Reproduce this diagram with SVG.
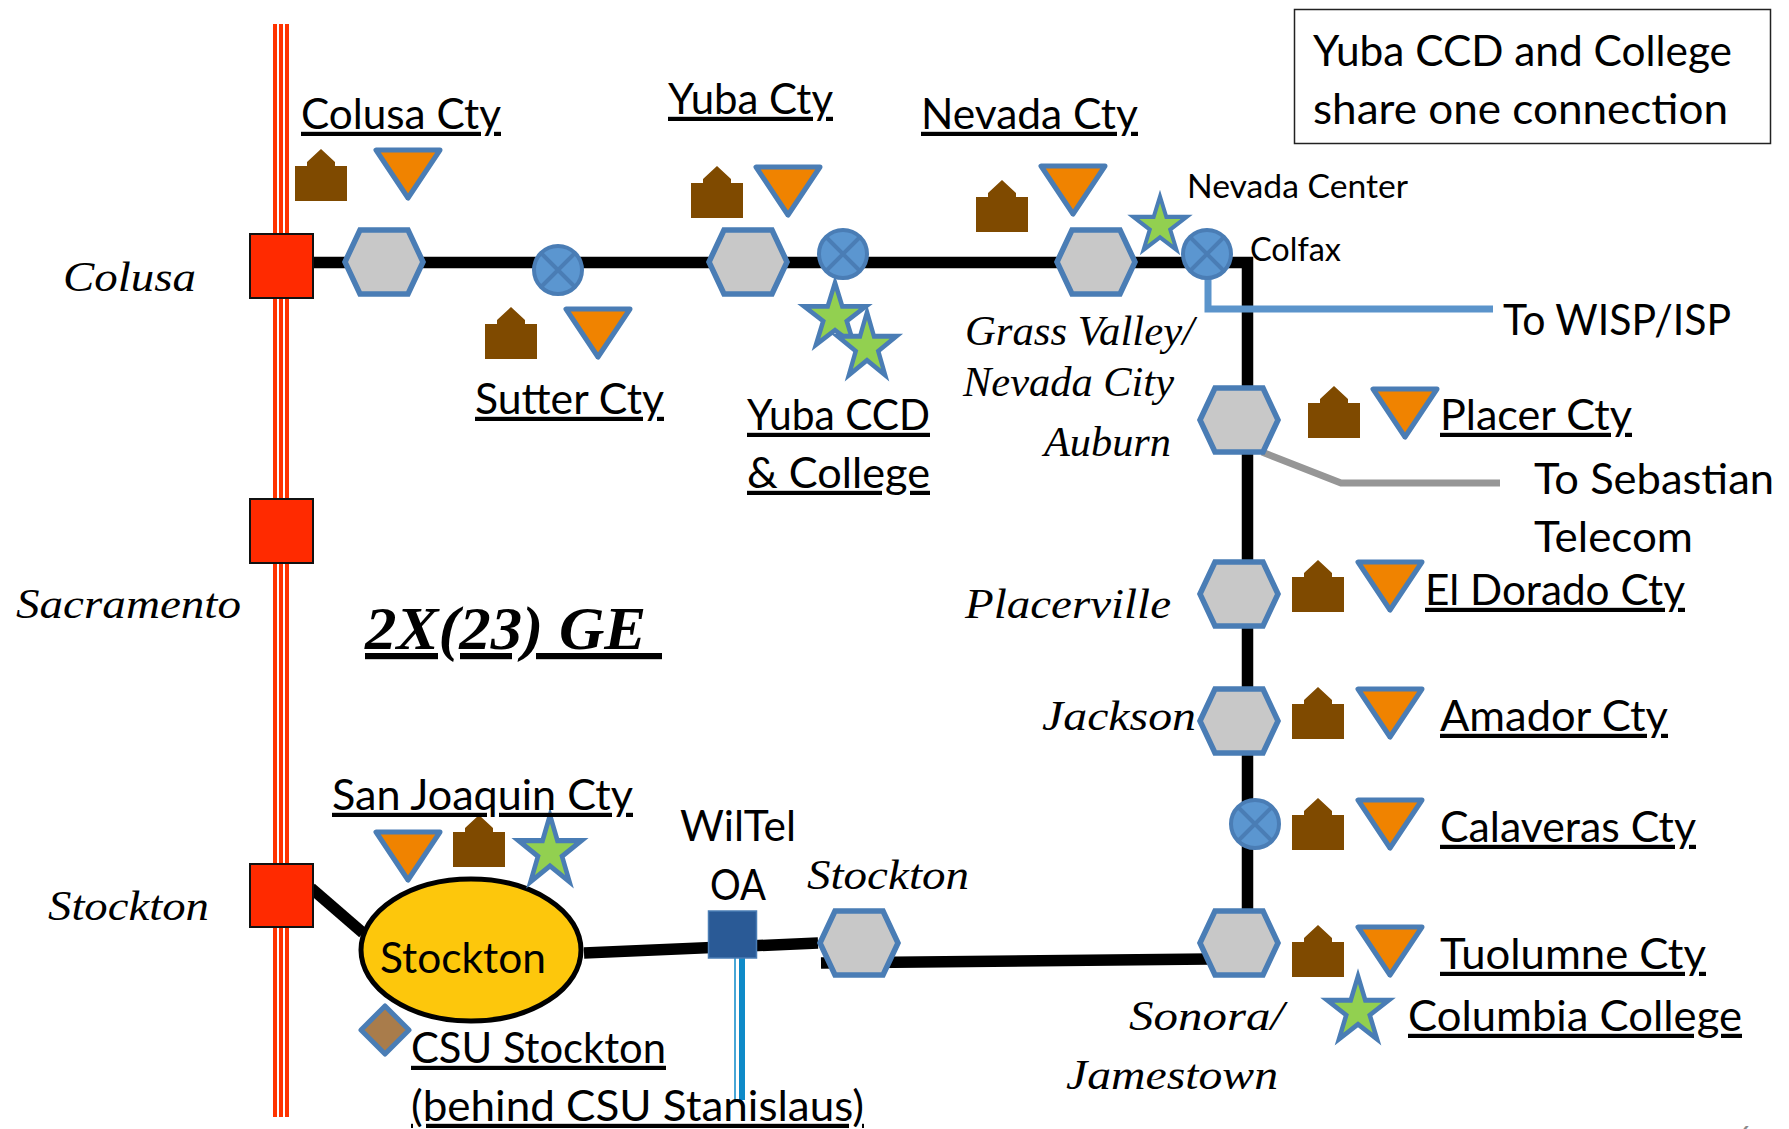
<svg xmlns="http://www.w3.org/2000/svg" width="1789" height="1129" viewBox="0 0 1789 1129">
<style>
.s{font-family:Lato,"Liberation Sans",sans-serif;font-size:42px;fill:#000;transform:translateY(.8px)}
.u{text-decoration:underline;text-decoration-thickness:2.5px;text-underline-offset:7px;text-decoration-skip-ink:none}
.m{font-size:32px}
.i{font-family:"Liberation Serif",serif;font-style:italic;font-size:42px;fill:#000}
.hex{fill:#c8c8c8;stroke:#4a7db5;stroke-width:5.500;stroke-linejoin:miter}
.tri{fill:#f08300;stroke:#4a7db5;stroke-width:5;stroke-linejoin:round}
.house{fill:#7f4a00}
.star{fill:#92d050;stroke:#4a7db5;stroke-width:5}
.cx{fill:#5b96d0;stroke:#4a7db5;stroke-width:4}
.cl{stroke:#4a7db5;stroke-width:4;fill:none}
.hub{fill:#ff2a00;stroke:#111;stroke-width:2}
.rail{stroke:#ff3300;stroke-width:4;fill:none}
.bk{stroke:#000;stroke-width:11.500;fill:none}
</style>
<defs>
<polygon id="h" class="hex" points="-39,0 -24,-32 24,-32 39,0 24,32 -24,32"/>
<polygon id="t" class="tri" points="-32,-23 32,-23 0,25"/>
<path id="b" class="house" d="M-26,52V17H-14V13L0,0L14,13V17H26V52Z"/>
<polygon id="st" class="star" points="0,-36 8.080,-11.120 34.240,-11.120 13.080,4.250 21.160,29.120 0,13.750 -21.160,29.120 -13.080,4.250 -34.240,-11.120 -8.080,-11.120"/>
<g id="x"><circle class="cx" r="24"/><path class="cl" d="M-16,-16L16,16M16,-16L-16,16"/></g>
</defs>

<g id="connectors">
<path class="rail" d="M275,24V1117M281,24V1117M287,24V1117"/>
<path class="bk" d="M313,262.500H1247.500V945"/>
<path class="bk" d="M311,888L363,933"/>
<path class="bk" d="M584,953L818,943"/>
<path class="bk" d="M821,963L1209,959"/>
<path fill="none" stroke="#5b94cb" stroke-width="7" d="M1208,276V309H1493"/>
<path fill="none" stroke="#969696" stroke-width="7" d="M1262,452L1341,483H1500"/>
<path fill="none" stroke="#0e8ac8" stroke-width="1.500" d="M735,958V1100"/>
<path fill="none" stroke="#0e8ac8" stroke-width="6" d="M742,958V1100"/>
</g>

<g id="hub-colusa"><rect class="hub" x="250" y="234" width="63" height="64"/><text class="i" x="63" y="290.500" textLength="133" lengthAdjust="spacingAndGlyphs">Colusa</text></g>
<g id="hub-sacramento"><rect class="hub" x="250" y="499" width="63" height="64"/><text class="i" x="16" y="617.500" textLength="225" lengthAdjust="spacingAndGlyphs">Sacramento</text></g>
<g id="hub-stockton"><rect class="hub" x="250" y="864" width="63" height="63"/><text class="i" x="48" y="919.500" textLength="161" lengthAdjust="spacingAndGlyphs">Stockton</text></g>

<g id="colusa-cty"><use href="#h" x="384" y="262"/><use href="#b" x="321" y="149"/><use href="#t" x="408" y="173"/><text class="s u" x="301" y="128" textLength="200" lengthAdjust="spacingAndGlyphs">Colusa Cty</text></g>
<g id="sutter-cty"><use href="#x" x="558" y="270"/><use href="#b" x="511" y="307"/><use href="#t" x="598" y="332"/><text class="s u" x="475" y="413" textLength="189" lengthAdjust="spacingAndGlyphs">Sutter Cty</text></g>
<g id="yuba-cty"><use href="#h" x="748" y="262"/><use href="#b" x="717" y="166"/><use href="#t" x="788" y="190"/><text class="s u" x="668" y="113" textLength="165" lengthAdjust="spacingAndGlyphs">Yuba Cty</text></g>
<g id="yuba-ccd"><use href="#x" x="843" y="254"/><use href="#st" transform="translate(835,317) scale(.9,.95)"/><use href="#st" transform="translate(867,347) scale(.86,.97)"/><text class="s u" x="747" y="429" textLength="183" lengthAdjust="spacingAndGlyphs">Yuba CCD</text><text class="s u" x="747" y="487" textLength="183" lengthAdjust="spacingAndGlyphs">&amp; College</text></g>
<g id="nevada-cty"><use href="#h" x="1096" y="262"/><use href="#b" x="1002" y="180"/><use href="#t" x="1073" y="189"/><text class="s u" x="921" y="128" textLength="217" lengthAdjust="spacingAndGlyphs">Nevada Cty</text><text class="i" x="965" y="344.500" textLength="229" lengthAdjust="spacingAndGlyphs">Grass Valley/</text><text class="i" x="963" y="395.500" textLength="211" lengthAdjust="spacingAndGlyphs">Nevada City</text></g>
<g id="nevada-center"><use href="#st" transform="translate(1160,226) scale(.78,.82)"/><text class="s m" x="1187" y="197" textLength="221" lengthAdjust="spacingAndGlyphs">Nevada Center</text></g>
<g id="colfax"><use href="#x" x="1207" y="254"/><text class="s m" x="1250" y="260" textLength="91" lengthAdjust="spacingAndGlyphs">Colfax</text></g>
<g id="to-wisp"><text class="s" x="1503" y="334" textLength="228" lengthAdjust="spacingAndGlyphs">To WISP/ISP</text></g>
<g id="placer-cty"><use href="#h" x="1239" y="420"/><use href="#b" x="1334" y="386"/><use href="#t" x="1405" y="412"/><text class="s u" x="1440" y="429" textLength="192" lengthAdjust="spacingAndGlyphs">Placer Cty</text><text class="i" x="1044" y="456" textLength="127" lengthAdjust="spacingAndGlyphs">Auburn</text></g>
<g id="to-sebastian"><text class="s" x="1534" y="493" textLength="240" lengthAdjust="spacingAndGlyphs">To Sebastian</text><text class="s" x="1534" y="551" textLength="159" lengthAdjust="spacingAndGlyphs">Telecom</text></g>
<g id="el-dorado-cty"><use href="#h" x="1239" y="594"/><use href="#b" x="1318" y="560"/><use href="#t" x="1390" y="585"/><text class="s u" x="1425" y="604" textLength="260" lengthAdjust="spacingAndGlyphs">El Dorado Cty</text><text class="i" x="965" y="617.500" textLength="206" lengthAdjust="spacingAndGlyphs">Placerville</text></g>
<g id="amador-cty"><use href="#h" x="1239" y="721"/><use href="#b" x="1318" y="687"/><use href="#t" x="1390" y="712"/><text class="s u" x="1440" y="730" textLength="228" lengthAdjust="spacingAndGlyphs">Amador Cty</text><text class="i" x="1042" y="729.500" textLength="154" lengthAdjust="spacingAndGlyphs">Jackson</text></g>
<g id="calaveras-cty"><use href="#x" x="1255" y="824"/><use href="#b" x="1318" y="798"/><use href="#t" x="1390" y="823"/><text class="s u" x="1440" y="841" textLength="256" lengthAdjust="spacingAndGlyphs">Calaveras Cty</text></g>
<g id="tuolumne-cty"><use href="#h" x="1239" y="943"/><use href="#b" x="1318" y="925"/><use href="#t" x="1390" y="950"/><text class="s u" x="1440" y="968" textLength="266" lengthAdjust="spacingAndGlyphs">Tuolumne Cty</text><text class="i" x="1129" y="1029.500" textLength="155" lengthAdjust="spacingAndGlyphs">Sonora/</text><text class="i" x="1066" y="1088.500" textLength="212" lengthAdjust="spacingAndGlyphs">Jamestown</text></g>
<g id="columbia-college"><use href="#st" transform="translate(1358,1011) scale(.9,.97)"/><text class="s u" x="1408" y="1030" textLength="334" lengthAdjust="spacingAndGlyphs">Columbia College</text></g>
<g id="stockton-hex"><use href="#h" x="859" y="943"/><text class="i" x="807" y="888.500" textLength="162" lengthAdjust="spacingAndGlyphs">Stockton</text></g>
<g id="wiltel-oa"><rect x="708.500" y="911" width="48" height="47" fill="#2a5a96" stroke="#4a7db5" stroke-width="1.500"/><text class="s" x="680" y="840" textLength="116" lengthAdjust="spacingAndGlyphs">WilTel</text><text class="s" x="710" y="899" textLength="56" lengthAdjust="spacingAndGlyphs">OA</text></g>
<g id="stockton-pop"><ellipse cx="471" cy="950" rx="110" ry="71" fill="#fdc70c" stroke="#000" stroke-width="5"/><text class="s" x="380" y="972" textLength="166" lengthAdjust="spacingAndGlyphs">Stockton</text></g>
<g id="san-joaquin-cty"><use href="#t" x="408" y="855"/><use href="#b" x="479" y="815"/><use href="#st" transform="translate(550,852) scale(.92,1.02)"/><text class="s u" x="332" y="809" textLength="301" lengthAdjust="spacingAndGlyphs">San Joaquin Cty</text></g>
<g id="csu-stockton"><polygon points="385,1006 409,1030 385,1054 361,1030" fill="#a97c4b" stroke="#4a7db5" stroke-width="5" stroke-linejoin="round"/><text class="s u" x="411" y="1062" textLength="255" lengthAdjust="spacingAndGlyphs">CSU Stockton</text><text class="s u" x="411" y="1120" textLength="453" lengthAdjust="spacingAndGlyphs">(behind CSU Stanislaus)</text></g>
<g id="title"><text x="365" y="649" textLength="297" lengthAdjust="spacingAndGlyphs" font-family="'Liberation Serif',serif" font-style="italic" font-weight="bold" font-size="62" xml:space="preserve" text-decoration="underline" style="text-underline-offset:11px;text-decoration-thickness:3px;text-decoration-skip-ink:none">2X(23) GE </text></g>
<g id="note"><rect x="1294.500" y="9.500" width="476" height="134" fill="#fff" stroke="#222" stroke-width="1.500"/><text class="s" x="1313" y="65" textLength="419" lengthAdjust="spacingAndGlyphs">Yuba CCD and College</text><text class="s" x="1313" y="123" textLength="415" lengthAdjust="spacingAndGlyphs">share one connection</text></g>
<g id="page-number"><text x="1736" y="1147" font-family="Lato,sans-serif" font-size="28" fill="#8a8a8a">6</text></g>
</svg>
